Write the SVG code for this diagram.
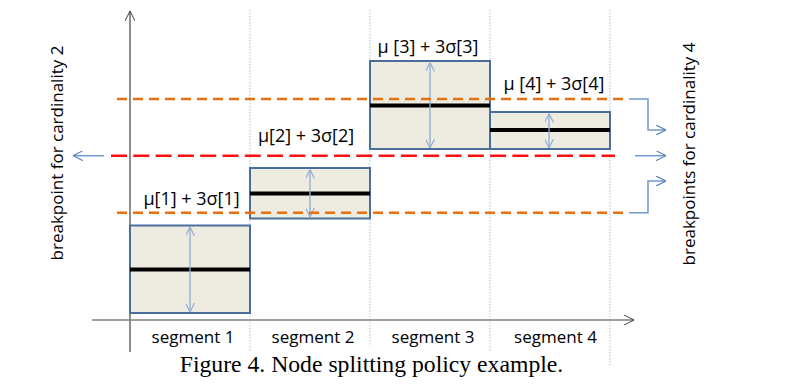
<svg xmlns="http://www.w3.org/2000/svg" width="807" height="384" viewBox="0 0 807 384">
<defs>
<marker id="ax" viewBox="0 0 10 10" refX="10" refY="5" markerWidth="10" markerHeight="10" markerUnits="userSpaceOnUse" orient="auto"><path d="M0,0 L10,5 L0,10" fill="none" stroke="#404040" stroke-width="1"/></marker>
<marker id="lb" viewBox="0 0 10 10" refX="10" refY="5" markerWidth="9" markerHeight="9" markerUnits="userSpaceOnUse" orient="auto-start-reverse"><path d="M0,0 L10,5 L0,10" fill="none" stroke="#8EADD4" stroke-width="1.3"/></marker>
<marker id="bl" viewBox="0 0 10 10" refX="10" refY="5" markerWidth="10" markerHeight="10" markerUnits="userSpaceOnUse" orient="auto"><path d="M0,0 L10,5 L0,10" fill="none" stroke="#5B86C2" stroke-width="1.2"/></marker>
</defs>
<style>
.t{font-family:"Open Sans","Noto Sans",sans-serif;font-size:18px;fill:#000}
.r{font-size:17px}
.cap{font-family:"Liberation Serif","Times New Roman",serif;font-size:23.7px;fill:#000}
.grid{stroke:#B8CCE4;stroke-width:1.2;stroke-dasharray:1.5 1.5;fill:none}
.box{fill:#EEECE1;stroke:#4A6E9C;stroke-width:2}
.mean{stroke:#000;stroke-width:4}
.dbl{stroke:#8EADD4;stroke-width:1.3;marker-start:url(#lb);marker-end:url(#lb)}
.or{stroke:#E8700F;stroke-width:2.5;stroke-dasharray:10 6;fill:none}
.rd{stroke:#FF1010;stroke-width:2.5;stroke-dasharray:16 6.3;fill:none}
.con{stroke:#6F97CB;stroke-width:1.5;fill:none;marker-end:url(#bl)}
</style>
<g id="grid">
<line class="grid" x1="250" y1="10" x2="250" y2="351"/>
<line class="grid" x1="370" y1="10" x2="370" y2="346"/>
<line class="grid" x1="490" y1="10" x2="490" y2="351"/>
<line class="grid" x1="610" y1="10" x2="610" y2="365"/>
</g>
<g id="axes">
<line x1="130" y1="352" x2="130" y2="11" stroke="#404040" stroke-width="1.2" marker-end="url(#ax)"/>
<line x1="92" y1="320" x2="634" y2="320" stroke="#7F7F7F" stroke-width="1.5" marker-end="url(#ax)"/>
</g>
<g id="seg1">
<rect class="box" x="130" y="225.5" width="120" height="87.5"/>
<line class="mean" x1="130" y1="269.5" x2="250" y2="269.5"/>
<line class="dbl" x1="190" y1="227" x2="190" y2="312"/>
</g>
<g id="seg2">
<rect class="box" x="250" y="168" width="120" height="50.5"/>
<line class="mean" x1="250" y1="193.5" x2="370" y2="193.5"/>
<line class="dbl" x1="310" y1="169.5" x2="310" y2="217"/>
</g>
<g id="seg3">
<rect class="box" x="370" y="61" width="120" height="88"/>
<line class="mean" x1="370" y1="105.5" x2="490" y2="105.5"/>
<line class="dbl" x1="430" y1="62.5" x2="430" y2="148"/>
</g>
<g id="seg4">
<rect class="box" x="490" y="112" width="120" height="37"/>
<line class="mean" x1="490" y1="130" x2="610" y2="130"/>
<line class="dbl" x1="549" y1="113.5" x2="549" y2="148"/>
</g>
<g id="breaklines">
<line class="or" x1="117" y1="99" x2="628" y2="99"/>
<line class="or" x1="117" y1="212.7" x2="628" y2="212.7"/>
<line class="rd" x1="111" y1="155.7" x2="615" y2="155.7"/>
</g>
<g id="connectors">
<line class="con" x1="104" y1="155.7" x2="73" y2="155.7"/>
<path class="con" d="M629,99 H648 V130 H666"/>
<line class="con" x1="635" y1="155.7" x2="666" y2="155.7"/>
<path class="con" d="M629,212.7 H648 V181 H666"/>
</g>
<g id="labels">
<text class="t" x="191.5" y="205" text-anchor="middle">μ[1] + 3σ[1]</text>
<text class="t" x="306" y="142" text-anchor="middle">μ[2] + 3σ[2]</text>
<text class="t" x="428" y="53" text-anchor="middle">μ [3] + 3σ[3]</text>
<text class="t" x="554" y="90" text-anchor="middle">μ [4] + 3σ[4]</text>
<text class="t r" x="193" y="343" text-anchor="middle">segment 1</text>
<text class="t r" x="313" y="343" text-anchor="middle">segment 2</text>
<text class="t r" x="433" y="343" text-anchor="middle">segment 3</text>
<text class="t r" x="555.5" y="343" text-anchor="middle">segment 4</text>
<text class="t r" transform="translate(63,153) rotate(-90)" text-anchor="middle">breakpoint for cardinality 2</text>
<text class="t r" transform="translate(695,154) rotate(-90)" text-anchor="middle">breakpoints for cardinality 4</text>
<text class="cap" x="371.5" y="372" text-anchor="middle">Figure 4. Node splitting policy example.</text>
</g>
</svg>
